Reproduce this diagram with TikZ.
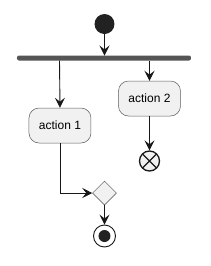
\documentclass[tikz,border=0pt]{standalone}
\usepackage{fontspec}
\setmainfont{Liberation Sans}
\usetikzlibrary{arrows.meta,shapes.geometric}
\definecolor{boxfill}{HTML}{F1F1F1}
\definecolor{boxline}{HTML}{181818}
\definecolor{barcol}{HTML}{555555}
\definecolor{dotcol}{HTML}{222222}
\begin{document}
\begin{tikzpicture}[x=1pt,y=-1pt,
  flow/.style={draw=boxline,line width=0.9pt,-{Stealth[length=10pt,width=10pt,inset=4pt]}},
  actbox/.style={draw=boxline!70,line width=0.5pt,fill=boxfill,rounded corners=10pt,minimum width=62pt,minimum height=35pt,font=\fontsize{12}{14}\selectfont,inner sep=0pt},
  choice/.style={diamond,draw=boxline!80,line width=0.5pt,fill=boxfill,minimum width=24pt,minimum height=24pt,inner sep=0pt}]
\useasboundingbox (0,0) rectangle (211,266);
\node[circle,fill=dotcol,minimum size=20pt,inner sep=0pt] (start) at (104.5,24) {};
\fill[barcol,rounded corners=2pt] (17,55.5) rectangle (191,60.5);
\coordinate (forkmid) at (104.5,55.5);
\coordinate (forkL) at (59.5,60.5);
\coordinate (forkR) at (149.5,60.5);
\node[actbox] (a1) at (60,125.5) {action 1};
\node[actbox] (a2) at (149.5,98.5) {action 2};
\node[circle,draw=boxline,line width=1.3pt,fill=boxfill,minimum size=20pt,inner sep=0pt] (ff) at (149.5,161) {};
\draw[boxline,line width=1.3pt] ([shift={(-7,-7)}]ff.center) -- ([shift={(7,7)}]ff.center)
  ([shift={(-7,7)}]ff.center) -- ([shift={(7,-7)}]ff.center);
\node[choice] (d) at (104.5,193) {};
\node[circle,draw=boxline,line width=0.9pt,fill=white,minimum size=22pt,inner sep=0pt] (end) at (104.5,236) {};
\fill[dotcol] (end.center) circle (6);
\draw[flow] (start.south) -- (forkmid);
\draw[flow] (forkL) -- (a1.north);
\draw[flow] (forkR) -- (a2.north);
\draw[flow] (a2.south) -- (ff.north);
\draw[flow] (a1.south) |- (d.west);
\draw[flow] (d.south) -- (end.north);
\end{tikzpicture}
\end{document}
